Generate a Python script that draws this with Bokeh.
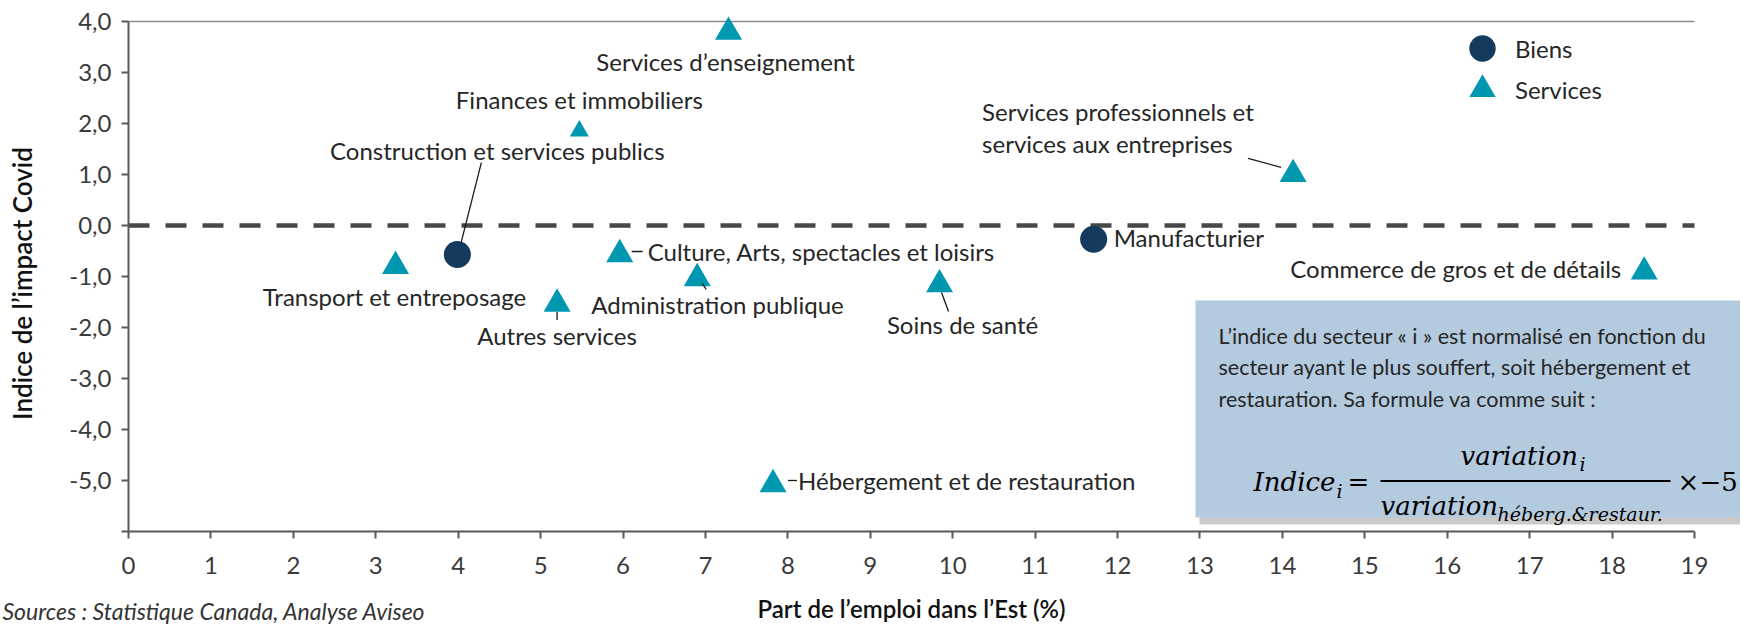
import math
from bokeh.plotting import figure
from bokeh.models import (Range1d, Label, BoxAnnotation, Legend, LegendItem,
                          FixedTicker, ColumnDataSource)
from bokeh.transform import dodge
from bokeh.embed import file_html
from bokeh.resources import INLINE

# ---------------- data ----------------
biens_names = ["Construction et services publics", "Manufacturier"]
biens_x = [3.99, 11.71]
biens_y = [-0.57, -0.27]

services_names = [
    "Services d’enseignement",
    "Finances et immobiliers",
    "Transport et entreposage",
    "Autres services",
    "Culture, Arts, spectacles et loisirs",
    "Administration publique",
    "Soins de santé",
    "Services professionnels et\nservices aux entreprises",
    "Commerce de gros et de détails",
    "Hébergement et de restauration",
]
services_x = [7.28, 5.47, 3.24, 5.20, 5.96, 6.90, 9.84, 14.13, 18.39, 7.82]
services_y = [3.87, 1.93, -0.72, -1.46, -0.49, -0.96, -1.08, 1.08, -0.83, -5.0]

x_ticks = list(range(0, 20))
x_tick_labels = [str(t) for t in x_ticks]
y_ticks = [4, 3, 2, 1, 0, -1, -2, -3, -4, -5, -6]
y_tick_labels = ["4,0", "3,0", "2,0", "1,0", "0,0", "-1,0", "-2,0", "-3,0", "-4,0", "-5,0", ""]

series_names = ["Biens", "Services"]
x_title = "Part de l’emploi dans l’Est (%)"
y_title = "Indice de l’impact Covid"
source_note = "Sources : Statistique Canada, Analyse Aviseo"
note_text = ("L’indice du secteur « i » est normalisé en fonction du\n"
             "secteur ayant le plus souffert, soit hébergement et\n"
             "restauration. Sa formule va comme suit :")

# ---------------- styles / layout ----------------
FONT = "Lato"
TITLE_FONT = "'Lato Semibold', Lato"
MATH = "DejaVu Serif"
C_BIENS = "#143A5D"
C_SERV = "#0097B0"
C_TEXT = "#262626"
C_AXIS = "#595959"

W, H = 1740, 626
# chart area (axes box) in canvas pixels
AL, AR, AT, AB = 128, 1694, 21, 531
X0, X1, Y0, Y1 = x_ticks[0], x_ticks[-1], y_ticks[-1], y_ticks[0]
ppx = (AR - AL) / (X1 - X0)
ppy = (AB - AT) / (Y1 - Y0)


def DX(px):
    return X0 + (px - AL) / ppx


def DY(py):
    return Y1 - (py - AT) / ppy


p = figure(width=W, height=H,
           x_range=Range1d(DX(0), DX(W)), y_range=Range1d(DY(H), DY(0)),
           output_backend="svg", toolbar_location=None,
           min_border=0, min_border_left=0, min_border_right=0,
           min_border_top=0, min_border_bottom=0)
p.outline_line_color = None
p.grid.visible = False
p.background_fill_color = "white"
p.border_fill_color = "white"

for ax in (p.xaxis[0], p.yaxis[0]):
    ax.axis_line_color = C_AXIS
    ax.axis_line_width = 2
    ax.major_tick_line_color = C_AXIS
    ax.major_tick_line_width = 2
    ax.major_tick_out = 7
    ax.major_tick_in = 0
    ax.minor_tick_line_color = None
    ax.major_label_text_font = FONT
    ax.major_label_text_font_size = "24px"
    ax.major_label_text_color = "#3a3a3a"

p.xaxis.fixed_location = Y0
p.xaxis.bounds = (X0, X1)
p.xaxis.ticker = FixedTicker(ticks=x_ticks)
p.xaxis.major_label_overrides = {t: l for t, l in zip(x_ticks, x_tick_labels)}
p.xaxis.major_label_standoff = 18
p.yaxis.fixed_location = X0
p.yaxis.bounds = (Y0, Y1)
p.yaxis.ticker = FixedTicker(ticks=y_ticks)
p.yaxis.major_label_overrides = {t: l for t, l in zip(y_ticks, y_tick_labels)}
p.yaxis.major_label_standoff = 10

# top border line and dashed zero line
p.segment([X0], [Y1], [X1], [Y1], line_color="#8c8c8c", line_width=1.5)
p.segment([X0], [0], [X1], [0], line_color="#474747", line_width=4.5, line_dash="21 16")

# markers (triangles: centre of the bounding box sits on the value)
TRI = 27
services_marker_size = [TRI, 19, TRI, TRI, TRI, TRI, TRI, TRI, TRI, TRI]
tri_shift = -(TRI * math.sqrt(3) / 2) / 6 / ppy
src_b = ColumnDataSource(dict(x=biens_x, y=biens_y, name=biens_names))
src_s = ColumnDataSource(dict(x=services_x, y=services_y, name=services_names,
                              size=services_marker_size))
rb = p.scatter("x", "y", source=src_b, marker="circle", size=27,
               fill_color=C_BIENS, line_color=None)
rs = p.scatter("x", dodge("y", tri_shift), source=src_s, marker="triangle", size="size",
               fill_color=C_SERV, line_color=None)

legend_kw = dict(glyph_width=66, glyph_height=66, padding=0, margin=0,
                 border_line_color=None, background_fill_alpha=0,
                 label_text_font=FONT, label_text_font_size="24px",
                 label_text_color=C_TEXT, label_standoff=0)
p.add_layout(Legend(items=[LegendItem(label=series_names[0], renderers=[rb])],
                    location=(1449, H - 81), **legend_kw))
p.add_layout(Legend(items=[LegendItem(label=series_names[1], renderers=[rs])],
                    location=(1449, H - 120 - 2), **legend_kw))

# point labels (pixel offsets from the points)
services_label_align = ["center", "center", "center", "center", "left", "left",
                        "center", "left", "right", "left"]
services_label_dx = [-3, 0, -1, 0, 28, -106, 23, -311, -23, 25]
services_label_dy = [33, -28, 34, 36, 1, 30, 44, -43, 1, 0]
biens_label_align = ["center", "left"]
biens_label_dx = [40, 20]
biens_label_dy = [-104, -2]

for names, xs, ys, al, dxs, dys in (
        (biens_names, biens_x, biens_y, biens_label_align, biens_label_dx, biens_label_dy),
        (services_names, services_x, services_y, services_label_align,
         services_label_dx, services_label_dy)):
    for n, x, y, a, dx, dy in zip(names, xs, ys, al, dxs, dys):
        p.add_layout(Label(x=x, y=y, x_offset=dx, y_offset=-dy, text=n,
                           text_align=a, text_baseline="middle", text_font=FONT,
                           text_font_size="24px", text_color=C_TEXT,
                           text_line_height=1.08))

# leader lines (pixel offsets from points)
leaders = [("b", 0, (24, -92), (4, -13)),
           ("s", 7, (-45, -12), (-12, -3)),
           ("s", 3, (0, 12), (0, 20)),
           ("s", 5, (5, 9), (9, 15)),
           ("s", 6, (2, 12), (9, 31)),
           ("s", 4, (12, 1), (23, 1)),
           ("s", 9, (15, 0), (24, 0))]
lx0, ly0, lx1, ly1 = [], [], [], []
for ser, i, r0, r1 in leaders:
    bx = biens_x if ser == "b" else services_x
    by = biens_y if ser == "b" else services_y
    lx0.append(bx[i] + r0[0] / ppx)
    ly0.append(by[i] - r0[1] / ppy)
    lx1.append(bx[i] + r1[0] / ppx)
    ly1.append(by[i] - r1[1] / ppy)
p.segment(lx0, ly0, lx1, ly1, line_color="#1a1a1a", line_width=1.3)

# axis titles and source
p.add_layout(Label(x=(X0 + X1) / 2, y=DY(608), text=x_title, text_align="center",
                   text_baseline="middle", text_font=TITLE_FONT, text_font_size="24px",
                   text_color="#111111"))
p.add_layout(Label(x=DX(21), y=DY(283), text=y_title, angle=math.pi / 2,
                   text_align="center", text_baseline="middle", text_font=TITLE_FONT,
                   text_font_size="26px", text_color="#111111"))
p.add_layout(Label(x=DX(2), y=DY(610), text=source_note, text_align="left",
                   text_baseline="middle", text_font=FONT, text_font_size="23px",
                   text_font_style="italic", text_color="#333333"))

# note box with shadow
p.add_layout(BoxAnnotation(left=DX(1199), right=DX(W + 20), top=DY(306), bottom=DY(524),
                           fill_color="#8a8a8a", fill_alpha=0.45, line_color=None))
p.add_layout(BoxAnnotation(left=DX(1195), right=DX(W + 20), top=DY(300), bottom=DY(517),
                           fill_color="#B4CADF", fill_alpha=1.0, line_color=None))
p.add_layout(Label(x=DX(1218), y=DY(322), text=note_text, text_align="left",
                   text_baseline="top", text_font=FONT, text_font_size="21.5px",
                   text_color=C_TEXT, text_line_height=1.23))


# formula
def mlabel(px, py, txt, size, style="italic"):
    p.add_layout(Label(x=DX(px), y=DY(py), text=txt, text_align="left",
                       text_baseline="middle", text_font=MATH, text_font_size=size,
                       text_font_style=style, text_color="#000000"))


mlabel(1253, 481, "Indice", "26px")
mlabel(1336, 490, "i", "19px")
mlabel(1347, 481, "=", "26px", style="normal")
p.add_layout(BoxAnnotation(left=DX(1380), right=DX(1670), top=DY(479.5), bottom=DY(481.5),
                           fill_color="#000000", fill_alpha=1.0, line_color=None))
mlabel(1460, 455, "variation", "26px")
mlabel(1579, 463, "i", "19px")
mlabel(1380, 505, "variation", "26px")
mlabel(1497, 513, "héberg.&restaur.", "19px")
mlabel(1677, 481, "×", "26px", style="normal")
mlabel(1699, 481, "−5", "26px", style="normal")

open("out.html", "w").write(file_html(p, INLINE))
